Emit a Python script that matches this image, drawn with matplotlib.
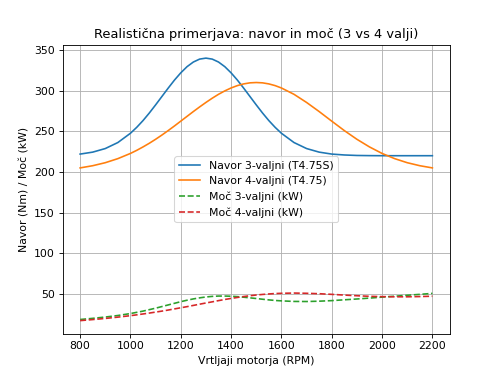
import matplotlib
matplotlib.use("Agg")
import matplotlib.pyplot as plt

rpm = [800, 850, 900, 950, 1000, 1025, 1050, 1075, 1100, 1125, 1150, 1175, 1200, 1225, 1250,
       1275, 1300, 1325, 1350, 1375, 1400, 1425, 1450, 1475, 1500, 1525, 1550, 1575, 1600,
       1650, 1700, 1750, 1800, 1850, 1900, 1950, 2000, 2050, 2100, 2150, 2200]

torque_3 = [222.0, 224.4, 228.8, 236.2, 247.6, 254.9, 263.2, 272.5, 282.5, 292.8, 303.1, 313.0,
            321.9, 329.5, 335.2, 338.8, 340.0, 338.8, 335.2, 329.5, 321.9, 313.0, 303.1, 292.8,
            282.5, 272.5, 263.2, 254.9, 247.6,
            236.2, 228.8, 224.4, 222.0, 220.9, 220.3, 220.1, 220.0, 220.0, 220.0, 220.0, 220.0]

torque_4 = [205.0, 207.7, 211.4, 216.4, 222.8, 226.6, 230.8, 235.3, 240.2, 245.4, 250.9, 256.6,
            262.5, 268.4, 274.3, 280.0, 285.5, 290.7, 295.5, 299.7, 303.3, 306.2, 308.3, 309.6,
            310.0, 309.6, 308.3, 306.2, 303.3,
            295.5, 285.5, 274.3, 262.5, 250.9, 240.2, 230.8, 222.8, 216.4, 211.4, 207.7, 205.0]

power_3 = [18.6, 20.0, 21.6, 23.5, 25.9, 27.4, 28.9, 30.7, 32.5, 34.5, 36.5, 38.5, 40.5, 42.3,
           43.9, 45.2, 46.3, 47.0, 47.4, 47.4, 47.2, 46.7, 46.0, 45.2, 44.4, 43.5, 42.7, 42.0,
           41.5, 40.8, 40.7, 41.1, 41.8, 42.8, 43.8, 44.9, 46.1, 47.2, 48.4, 49.5, 50.7]

power_4 = [17.2, 18.5, 19.9, 21.5, 23.3, 24.3, 25.4, 26.5, 27.7, 28.9, 30.2, 31.6, 33.0, 34.4,
           35.9, 37.4, 38.9, 40.3, 41.8, 43.2, 44.5, 45.7, 46.8, 47.8, 48.7, 49.4, 50.0, 50.5,
           50.8, 51.1, 50.8, 50.3, 49.5, 48.6, 47.8, 47.1, 46.7, 46.5, 46.5, 46.8, 47.2]

fig, ax = plt.subplots(figsize=(6.4, 4.8), dpi=78.125)
ax.plot(rpm, torque_3, color="#1f77b4", label="Navor 3-valjni (T4.75S)")
ax.plot(rpm, torque_4, color="#ff7f0e", label="Navor 4-valjni (T4.75)")
ax.plot(rpm, power_3, color="#2ca02c", linestyle="--", label="Moč 3-valjni (kW)")
ax.plot(rpm, power_4, color="#d62728", linestyle="--", label="Moč 4-valjni (kW)")

ax.set_title("Realistična primerjava: navor in moč (3 vs 4 valji)")
ax.set_xlabel("Vrtljaji motorja (RPM)")
ax.set_ylabel("Navor (Nm) / Moč (kW)")
ax.grid(True)
ax.legend(loc="center")

fig.savefig("out.png", dpi=78.125)
